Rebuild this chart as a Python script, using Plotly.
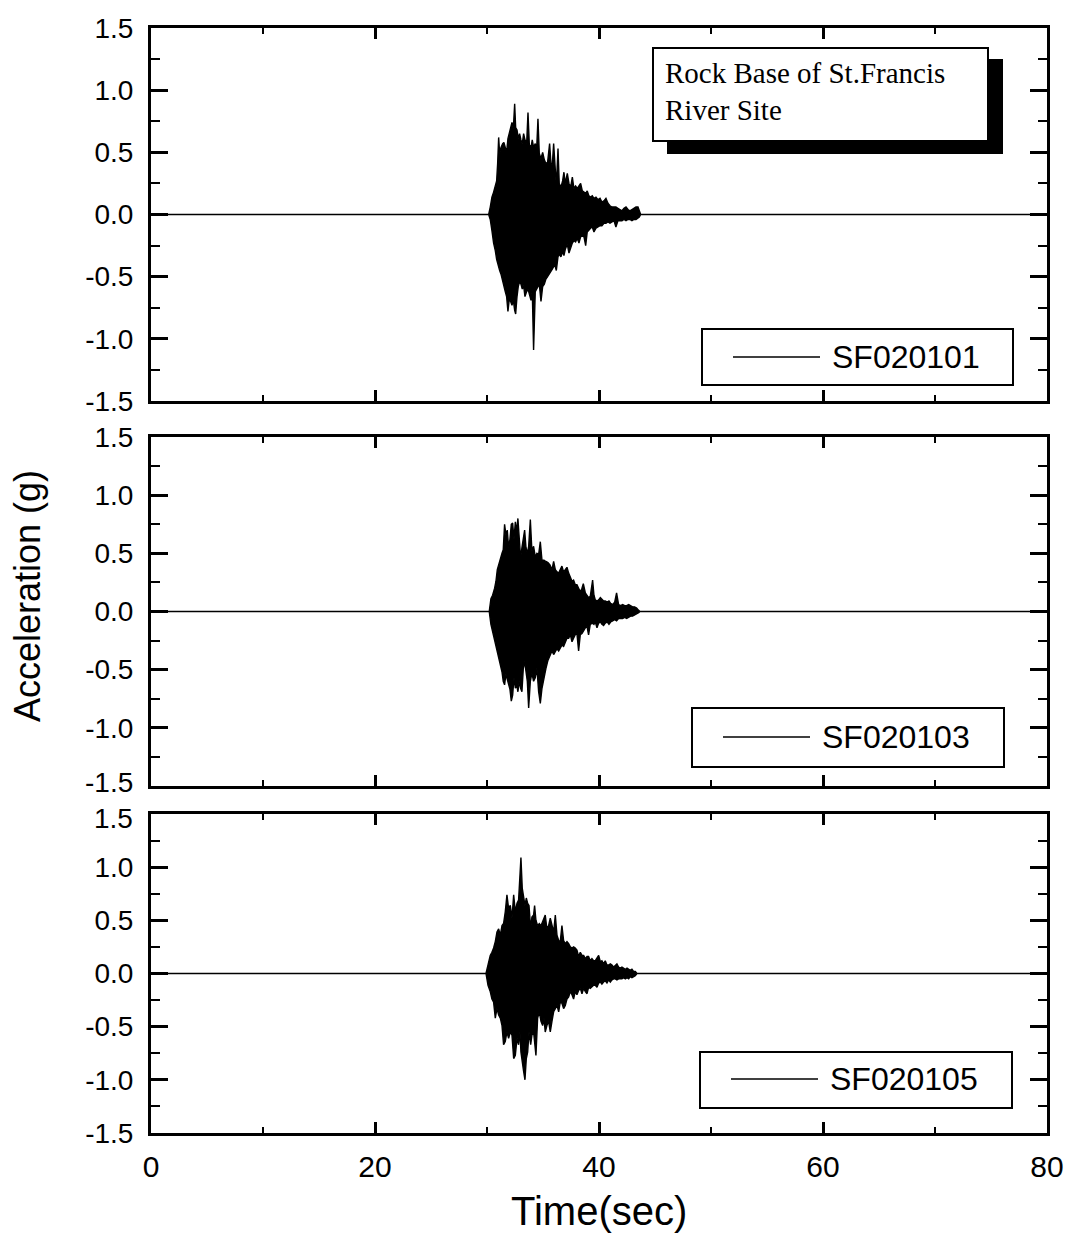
import plotly.graph_objects as go

# ---------------------------------------------------------------------------
# Acceleration records (g).  Each burst is stored as its peak (upper) and
# trough (lower) envelope sampled at the listed times (s); outside the burst
# the record sits at 0 g over the whole span.
# ---------------------------------------------------------------------------
record_span = [0.0, 80.0]

time_101 = [
    30.15, 30.29, 30.44, 30.59, 30.74, 30.86, 30.95, 31.04, 31.13, 31.25,
    31.40, 31.51, 31.63, 31.75, 31.87, 31.99, 32.11, 32.23, 32.35, 32.47,
    32.56, 32.68, 32.79, 32.91, 33.03, 33.15, 33.27, 33.39, 33.54, 33.66,
    33.78, 33.93, 34.04, 34.16, 34.31, 34.43, 34.55, 34.67, 34.82, 34.97,
    35.12, 35.26, 35.41, 35.59, 35.71, 35.83, 35.95, 36.07, 36.19, 36.34,
    36.45, 36.60, 36.75, 36.87, 36.99, 37.17, 37.32, 37.47, 37.62, 37.76,
    37.91, 38.06, 38.21, 38.36, 38.51, 38.66, 38.81, 38.95, 39.10, 39.25,
    39.40, 39.55, 39.73, 39.91, 40.09, 40.26, 40.44, 40.62, 40.80, 40.98,
    41.16, 41.34, 41.51, 41.69, 41.87, 42.05, 42.23, 42.41, 42.59, 42.76,
    42.94, 43.12, 43.30, 43.48, 43.60, 43.72,
]
upper_101 = [
    0.00, 0.06, 0.14, 0.18, 0.24, 0.27, 0.41, 0.62, 0.49, 0.54,
    0.57, 0.58, 0.54, 0.50, 0.61, 0.65, 0.68, 0.74, 0.69, 0.89,
    0.70, 0.68, 0.61, 0.65, 0.60, 0.57, 0.65, 0.60, 0.57, 0.82,
    0.56, 0.54, 0.60, 0.54, 0.57, 0.52, 0.77, 0.49, 0.45, 0.50,
    0.44, 0.41, 0.42, 0.57, 0.41, 0.40, 0.57, 0.38, 0.23, 0.53,
    0.25, 0.22, 0.27, 0.34, 0.25, 0.33, 0.25, 0.22, 0.30, 0.21,
    0.23, 0.21, 0.23, 0.25, 0.19, 0.18, 0.17, 0.19, 0.15, 0.14,
    0.15, 0.13, 0.14, 0.12, 0.13, 0.10, 0.11, 0.13, 0.09, 0.07,
    0.06, 0.06, 0.06, 0.05, 0.04, 0.03, 0.05, 0.06, 0.04, 0.03,
    0.04, 0.05, 0.06, 0.06, 0.02, 0.00,
]
lower_101 = [
    0.00, -0.04, -0.13, -0.23, -0.29, -0.36, -0.39, -0.42, -0.45, -0.48,
    -0.54, -0.57, -0.62, -0.66, -0.78, -0.68, -0.70, -0.73, -0.69, -0.77,
    -0.80, -0.66, -0.58, -0.54, -0.56, -0.60, -0.57, -0.66, -0.62, -0.60,
    -0.64, -0.69, -0.61, -1.09, -0.62, -0.60, -0.58, -0.56, -0.70, -0.58,
    -0.56, -0.52, -0.50, -0.48, -0.46, -0.44, -0.42, -0.41, -0.45, -0.34,
    -0.32, -0.34, -0.30, -0.33, -0.28, -0.24, -0.31, -0.27, -0.23, -0.21,
    -0.22, -0.19, -0.23, -0.18, -0.17, -0.18, -0.25, -0.14, -0.13, -0.11,
    -0.10, -0.14, -0.11, -0.10, -0.09, -0.09, -0.07, -0.07, -0.06, -0.07,
    -0.06, -0.05, -0.10, -0.05, -0.05, -0.05, -0.04, -0.05, -0.04, -0.04,
    -0.05, -0.04, -0.04, -0.03, -0.02, 0.00,
]

time_103 = [
    30.20, 30.35, 30.50, 30.68, 30.80, 30.92, 31.04, 31.19, 31.34, 31.45,
    31.57, 31.69, 31.81, 31.93, 32.05, 32.17, 32.29, 32.41, 32.53, 32.65,
    32.76, 32.88, 33.00, 33.12, 33.24, 33.36, 33.48, 33.60, 33.72, 33.87,
    34.01, 34.16, 34.31, 34.46, 34.61, 34.76, 34.91, 35.09, 35.26, 35.44,
    35.62, 35.80, 35.95, 36.10, 36.25, 36.40, 36.54, 36.69, 36.84, 36.99,
    37.14, 37.29, 37.44, 37.59, 37.73, 37.88, 38.03, 38.18, 38.33, 38.48,
    38.60, 38.78, 38.93, 39.07, 39.22, 39.43, 39.55, 39.67, 39.82, 39.97,
    40.12, 40.26, 40.41, 40.56, 40.74, 40.89, 41.04, 41.22, 41.40, 41.57,
    41.75, 41.93, 42.11, 42.29, 42.47, 42.65, 42.82, 43.00, 43.18, 43.36,
    43.54, 43.66,
]
upper_103 = [
    0.00, 0.11, 0.14, 0.20, 0.26, 0.36, 0.40, 0.47, 0.50, 0.53,
    0.75, 0.66, 0.70, 0.55, 0.62, 0.75, 0.76, 0.62, 0.77, 0.69,
    0.80, 0.63, 0.46, 0.55, 0.65, 0.70, 0.55, 0.50, 0.56, 0.79,
    0.52, 0.56, 0.47, 0.50, 0.49, 0.60, 0.44, 0.44, 0.43, 0.42,
    0.40, 0.36, 0.43, 0.36, 0.34, 0.33, 0.36, 0.39, 0.34, 0.36,
    0.38, 0.33, 0.29, 0.26, 0.27, 0.23, 0.23, 0.20, 0.17, 0.20,
    0.24, 0.16, 0.14, 0.12, 0.13, 0.27, 0.14, 0.10, 0.09, 0.10,
    0.12, 0.10, 0.09, 0.09, 0.08, 0.09, 0.07, 0.06, 0.08, 0.16,
    0.06, 0.05, 0.06, 0.05, 0.05, 0.06, 0.05, 0.04, 0.04, 0.03,
    0.01, 0.00,
]
lower_103 = [
    0.00, -0.11, -0.17, -0.23, -0.29, -0.34, -0.40, -0.46, -0.52, -0.60,
    -0.63, -0.54, -0.60, -0.63, -0.67, -0.77, -0.72, -0.57, -0.66, -0.63,
    -0.69, -0.60, -0.66, -0.69, -0.49, -0.43, -0.49, -0.60, -0.83, -0.60,
    -0.53, -0.60, -0.57, -0.49, -0.69, -0.79, -0.66, -0.57, -0.49, -0.42,
    -0.38, -0.34, -0.37, -0.34, -0.32, -0.34, -0.32, -0.29, -0.30, -0.26,
    -0.23, -0.23, -0.20, -0.26, -0.23, -0.20, -0.19, -0.34, -0.20, -0.19,
    -0.17, -0.14, -0.13, -0.20, -0.11, -0.10, -0.11, -0.09, -0.14, -0.10,
    -0.09, -0.11, -0.12, -0.10, -0.09, -0.11, -0.09, -0.08, -0.07, -0.08,
    -0.06, -0.06, -0.06, -0.05, -0.06, -0.05, -0.04, -0.04, -0.03, -0.02,
    -0.01, 0.00,
]

time_105 = [
    29.91, 30.09, 30.29, 30.44, 30.59, 30.74, 30.89, 31.04, 31.19, 31.34,
    31.48, 31.63, 31.78, 31.93, 32.08, 32.23, 32.38, 32.53, 32.68, 32.82,
    32.94, 33.03, 33.15, 33.27, 33.39, 33.51, 33.63, 33.75, 33.90, 34.01,
    34.16, 34.25, 34.37, 34.52, 34.67, 34.82, 34.97, 35.09, 35.20, 35.35,
    35.50, 35.65, 35.80, 35.95, 36.10, 36.25, 36.40, 36.54, 36.69, 36.84,
    36.99, 37.14, 37.29, 37.44, 37.59, 37.73, 37.88, 38.03, 38.18, 38.33,
    38.48, 38.63, 38.78, 38.93, 39.07, 39.22, 39.37, 39.52, 39.67, 39.82,
    39.97, 40.12, 40.26, 40.41, 40.56, 40.71, 40.86, 41.01, 41.16, 41.31,
    41.45, 41.60, 41.75, 41.90, 42.05, 42.20, 42.35, 42.50, 42.65, 42.79,
    42.94, 43.09, 43.24, 43.39,
]
upper_105 = [
    0.00, 0.08, 0.17, 0.20, 0.24, 0.30, 0.39, 0.42, 0.36, 0.45,
    0.47, 0.58, 0.74, 0.61, 0.64, 0.52, 0.74, 0.58, 0.66, 0.69,
    0.89, 1.09, 0.80, 0.69, 0.64, 0.71, 0.66, 0.64, 0.42, 0.53,
    0.55, 0.64, 0.50, 0.45, 0.47, 0.45, 0.49, 0.52, 0.55, 0.42,
    0.45, 0.52, 0.44, 0.39, 0.55, 0.36, 0.31, 0.30, 0.45, 0.31,
    0.28, 0.30, 0.28, 0.25, 0.24, 0.25, 0.24, 0.22, 0.16, 0.20,
    0.17, 0.17, 0.14, 0.16, 0.16, 0.12, 0.14, 0.12, 0.12, 0.14,
    0.17, 0.11, 0.12, 0.09, 0.12, 0.08, 0.08, 0.09, 0.08, 0.06,
    0.08, 0.09, 0.06, 0.05, 0.06, 0.05, 0.04, 0.05, 0.04, 0.03,
    0.04, 0.02, 0.02, 0.00,
]
lower_105 = [
    0.00, -0.11, -0.17, -0.24, -0.27, -0.42, -0.33, -0.39, -0.42, -0.49,
    -0.67, -0.64, -0.55, -0.61, -0.55, -0.58, -0.80, -0.77, -0.61, -0.67,
    -0.55, -0.74, -0.83, -0.92, -1.00, -0.80, -0.74, -0.55, -0.67, -0.58,
    -0.55, -0.61, -0.77, -0.42, -0.36, -0.45, -0.49, -0.42, -0.55, -0.49,
    -0.45, -0.55, -0.45, -0.36, -0.33, -0.30, -0.36, -0.27, -0.28, -0.33,
    -0.30, -0.24, -0.22, -0.17, -0.20, -0.24, -0.17, -0.20, -0.16, -0.14,
    -0.19, -0.14, -0.17, -0.19, -0.13, -0.14, -0.13, -0.11, -0.11, -0.13,
    -0.09, -0.08, -0.10, -0.08, -0.07, -0.09, -0.06, -0.08, -0.06, -0.05,
    -0.05, -0.06, -0.05, -0.05, -0.05, -0.04, -0.05, -0.04, -0.05, -0.03,
    -0.04, -0.03, -0.02, 0.00,
]

station_names = ["SF020101", "SF020103", "SF020105"]
site_label = ["Rock Base of St.Francis", "River Site"]

xtick_vals = [0, 20, 40, 60, 80]
xtick_text = ["0", "20", "40", "60", "80"]
ytick_vals = [-1.5, -1.0, -0.5, 0.0, 0.5, 1.0, 1.5]
ytick_text = ["-1.5", "-1.0", "-0.5", "0.0", "0.5", "1.0", "1.5"]

x_title = "Time(sec)"
y_title = "Acceleration (g)"

records = [
    (station_names[0], time_101, upper_101, lower_101),
    (station_names[1], time_103, upper_103, lower_103),
    (station_names[2], time_105, upper_105, lower_105),
]

# ---------------------------------------------------------------------------
# Page geometry (pixels) -> paper fractions
# ---------------------------------------------------------------------------
W, H = 1070, 1235
PLOT_LEFT, PLOT_RIGHT = 151, 1047
PANELS = [(28, 401), (437, 786), (814, 1133)]          # top, bottom
LEGEND_BOXES = [                                        # box, sample line y
    ((702, 329, 1013, 385), 357),
    ((692, 708, 1004, 767), 737),
    ((700, 1052, 1012, 1108), 1079),
]
SAMPLE_INSET = (31, 118)                                # line start/end from box left
LABEL_INSET = 128
YLABEL_RIGHT = 134                                      # right edge of y tick labels
# where two stacked panels meet, the facing end labels are set as free text
# nudged apart so they do not collide: (panel, tick index, nudge px; + = up)
END_LABEL_NUDGE = [(1, 0, 4), (2, len(ytick_vals) - 1, -4)]

SANS = "Liberation Sans, Arial, sans-serif"
SERIF = "Liberation Serif, Times New Roman, serif"


def fx(p):
    return p / W


def fy(p):
    return 1 - p / H


TICK_FONT = dict(family=SANS, size=28, color="black")

fig = go.Figure()
shapes = []
annotations = []

for i, (name, t, up, dn) in enumerate(records):
    suffix = "" if i == 0 else str(i + 1)
    # closed outline: upper envelope forwards, lower envelope backwards,
    # joined to the quiet 0 g record at both ends of the span
    xs = [record_span[0]] + t + [record_span[1], record_span[1]] + t[::-1] + [record_span[0]]
    ys = [0.0] + up + [0.0, 0.0] + dn[::-1] + [0.0]
    fig.add_trace(go.Scatter(
        x=xs, y=ys, name=name, mode="lines",
        fill="toself", fillcolor="black",
        line=dict(color="black", width=1.4),
        showlegend=False, hoverinfo="skip",
        xaxis="x" + suffix, yaxis="y" + suffix,
    ))

    top, bottom = PANELS[i]
    labels = list(ytick_text)
    for panel, k, nudge in END_LABEL_NUDGE:
        if panel == i:
            labels[k] = ""
            frac = (ytick_vals[k] - ytick_vals[0]) / (ytick_vals[-1] - ytick_vals[0])
            y_px = bottom - frac * (bottom - top) - nudge
            annotations.append(dict(
                text=ytick_text[k], xref="paper", yref="paper",
                x=fx(YLABEL_RIGHT), y=fy(y_px),
                xanchor="right", yanchor="middle", showarrow=False,
                borderpad=0, font=TICK_FONT,
            ))

    axis_style = dict(
        showline=True, linecolor="black", linewidth=3, mirror="allticks",
        ticks="inside", tickcolor="black", tickwidth=2.5,
        showgrid=False, zeroline=False, fixedrange=True, automargin=False,
        tickfont=TICK_FONT,
    )
    fig.layout["xaxis" + suffix] = dict(
        axis_style,
        domain=[fx(PLOT_LEFT), fx(PLOT_RIGHT)],
        anchor="y" + suffix,
        range=[xtick_vals[0], xtick_vals[-1]],
        tickmode="array", tickvals=xtick_vals, ticktext=xtick_text,
        ticklen=11,
        minor=dict(ticks="inside", dtick=10, tick0=0, ticklen=6,
                   tickwidth=2, tickcolor="black", showgrid=False),
        showticklabels=(i == len(records) - 1),
        ticklabelstandoff=5,
        tickfont=dict(TICK_FONT, size=30),
    )
    fig.layout["yaxis" + suffix] = dict(
        axis_style,
        domain=[fy(bottom), fy(top)],
        anchor="x" + suffix,
        range=[ytick_vals[0], ytick_vals[-1]],
        tickmode="array", tickvals=ytick_vals, ticktext=labels,
        ticklen=17,
        minor=dict(ticks="inside", dtick=0.25, tick0=0, ticklen=9,
                   tickwidth=2, tickcolor="black", showgrid=False),
        ticklabelstandoff=9,
    )

# site caption box with a solid drop shadow
shapes.append(dict(type="rect", xref="paper", yref="paper",
                   x0=fx(667), x1=fx(1003), y0=fy(154), y1=fy(59),
                   fillcolor="black", line=dict(width=0)))
shapes.append(dict(type="rect", xref="paper", yref="paper",
                   x0=fx(653), x1=fx(988), y0=fy(141), y1=fy(48),
                   fillcolor="white", line=dict(color="black", width=2)))
for line_text, y_mid in zip(site_label, (73, 110)):
    annotations.append(dict(
        text=line_text, xref="paper", yref="paper", x=fx(663), y=fy(y_mid),
        xanchor="left", yanchor="middle", showarrow=False,
        font=dict(family=SERIF, size=29, color="black"),
    ))

# per-panel key boxes
for name, ((bx0, by0, bx1, by1), ly) in zip(station_names, LEGEND_BOXES):
    shapes.append(dict(type="rect", xref="paper", yref="paper",
                       x0=fx(bx0), x1=fx(bx1), y0=fy(by1), y1=fy(by0),
                       fillcolor="white", line=dict(color="black", width=2)))
    shapes.append(dict(type="line", xref="paper", yref="paper",
                       x0=fx(bx0 + SAMPLE_INSET[0]), x1=fx(bx0 + SAMPLE_INSET[1]),
                       y0=fy(ly), y1=fy(ly),
                       line=dict(color="black", width=1.5)))
    annotations.append(dict(
        text=name, xref="paper", yref="paper", x=fx(bx0 + LABEL_INSET), y=fy(ly),
        xanchor="left", yanchor="middle", showarrow=False,
        font=dict(family=SANS, size=32, color="black"),
    ))

# axis titles
annotations.append(dict(
    text=y_title, xref="paper", yref="paper", x=fx(27), y=fy(596),
    xanchor="center", yanchor="middle", textangle=-90, showarrow=False,
    font=dict(family=SANS, size=36, color="black"),
))
annotations.append(dict(
    text=x_title, xref="paper", yref="paper", x=fx(599), y=fy(1211),
    xanchor="center", yanchor="middle", showarrow=False,
    font=dict(family=SANS, size=40, color="black"),
))

fig.update_layout(
    width=W, height=H,
    margin=dict(l=0, r=0, t=0, b=0),
    paper_bgcolor="white", plot_bgcolor="white",
    font=TICK_FONT,
    showlegend=False,
    shapes=shapes,
    annotations=annotations,
)

fig.write_html("out.html")
